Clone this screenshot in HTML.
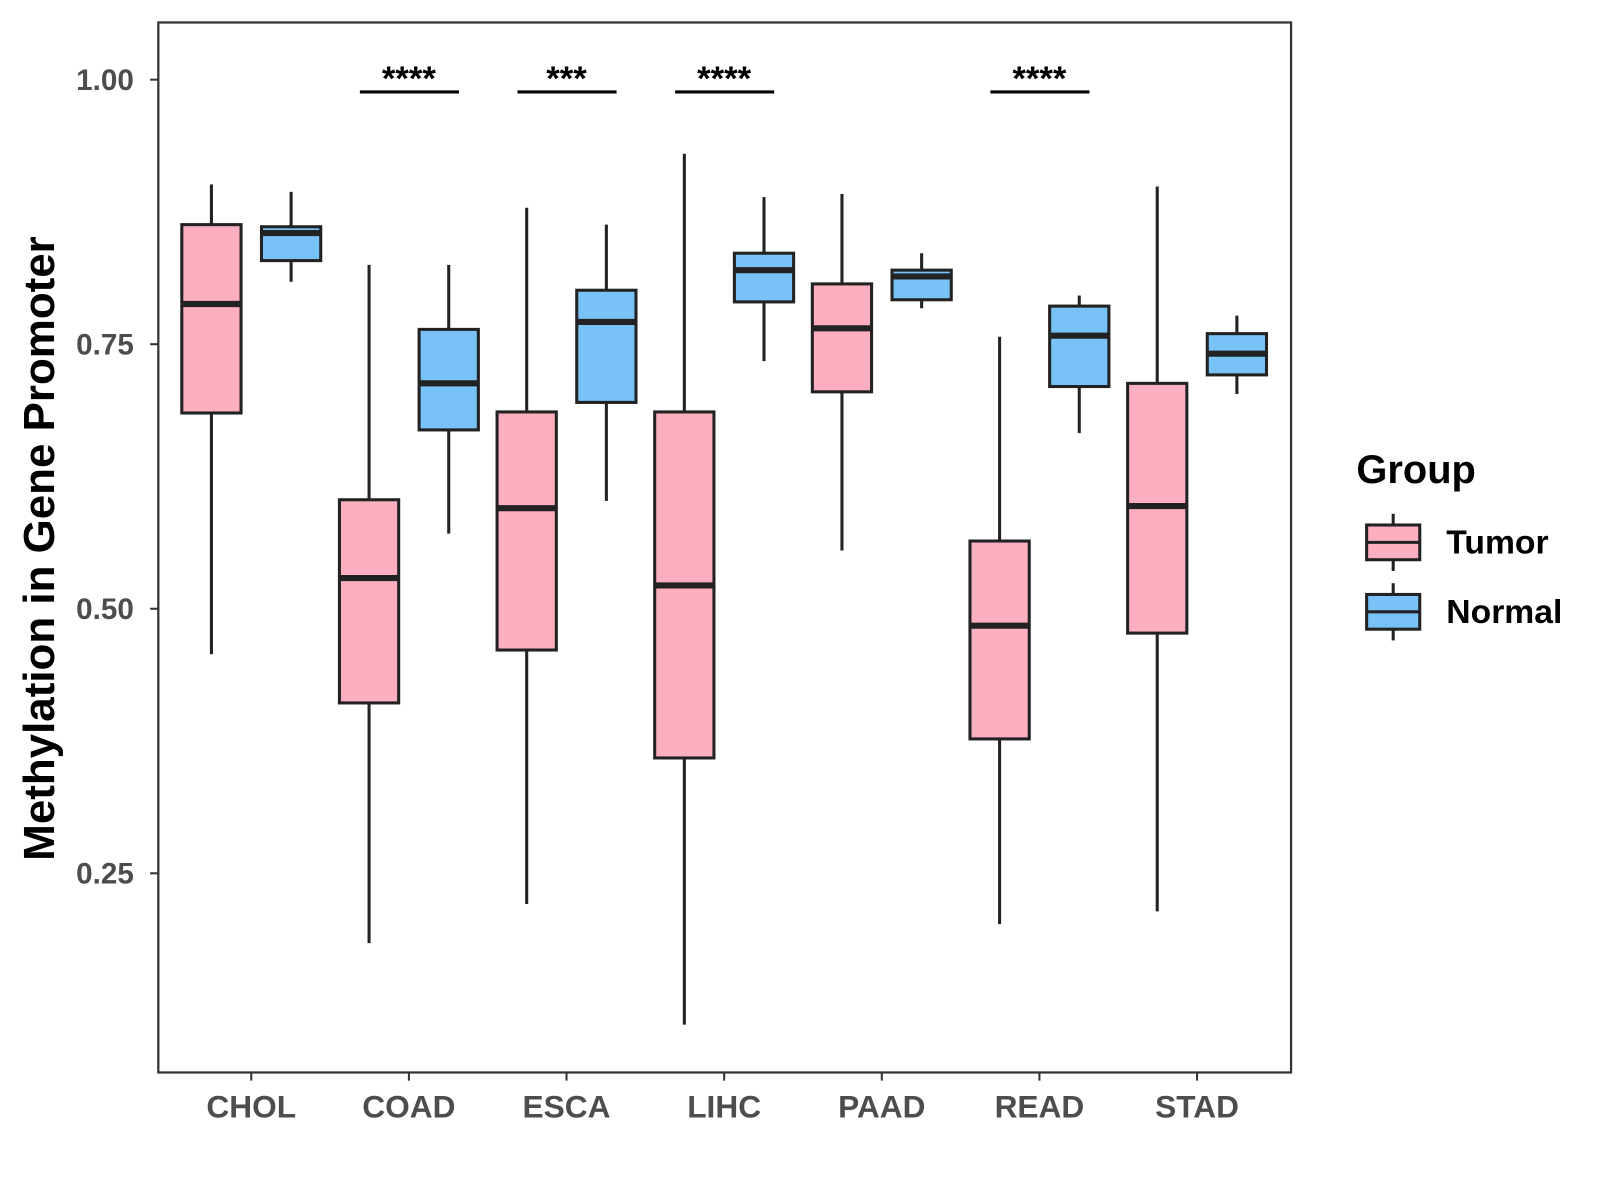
<!DOCTYPE html>
<html><head><meta charset="utf-8"><style>
html,body{margin:0;padding:0;background:#fff;}
svg{display:block;font-family:"Liberation Sans",Arial,sans-serif;}
</style></head><body>
<svg id="chart" width="1600" height="1200" viewBox="0 0 1600 1200">
<rect x="0" y="0" width="1600" height="1200" fill="#fff"/>
<g id="plot" transform="scale(1.0214)"></g>
</svg>
<script>
const categories = ["CHOL","COAD","ESCA","LIHC","PAAD","READ","STAD"];
// [low, q1, median, q3, high]
const tumorStats = [
 [0.457,0.685,0.788,0.863,0.901],
 [0.184,0.411,0.529,0.603,0.825],
 [0.221,0.461,0.595,0.686,0.879],
 [0.107,0.359,0.522,0.686,0.930],
 [0.555,0.705,0.765,0.807,0.892],
 [0.202,0.377,0.484,0.564,0.757],
 [0.214,0.477,0.597,0.713,0.899]
];
const normalStats = [
 [0.809,0.829,0.855,0.861,0.894],
 [0.571,0.669,0.713,0.764,0.825],
 [0.602,0.695,0.771,0.801,0.863],
 [0.734,0.790,0.820,0.836,0.889],
 [0.784,0.792,0.814,0.820,0.836],
 [0.666,0.710,0.758,0.786,0.796],
 [0.703,0.721,0.741,0.760,0.777]
];
const yTicks = [0.25,0.50,0.75,1.00];
const yTickLabels = ["0.25","0.50","0.75","1.00"];
const sigLabels = ["","****","***","****","","****",""];

const NS="http://www.w3.org/2000/svg";
const g=document.getElementById('plot');
const P={l:155,r:1264,t:22,b:1050};
function yS(v){return 78+(1-v)*1036;}
function xS(i){return 246+i*154.33;}
function el(tag,attrs,parent){const e=document.createElementNS(NS,tag);for(const k in attrs)e.setAttribute(k,attrs[k]);(parent||g).appendChild(e);return e;}

const panel=el('rect',{x:P.l,y:P.t,width:P.r-P.l,height:P.b-P.t,fill:'none',stroke:'#333','stroke-width':2.2});



yTicks.forEach((v,i)=>{
 const t=el('line',{x1:P.l-8,x2:P.l,y1:yS(v),y2:yS(v),stroke:'#333','stroke-width':2});
 
 
 const lb=el('text',{x:131,y:yS(v)+10,'text-anchor':'end','font-size':29,'font-weight':'bold',fill:'#4d4d4d'});
 lb.textContent=yTickLabels[i];
 
 
});
categories.forEach((c,i)=>{
 const t=el('line',{x1:xS(i),x2:xS(i),y1:P.b,y2:P.b+8,stroke:'#333','stroke-width':2});
 
 
 const lb=el('text',{x:xS(i),y:1094,'text-anchor':'middle','font-size':31,'font-weight':'bold',fill:'#4d4d4d'});
 lb.textContent=c;
 
 
});

function box(cx,s,fill,name){
 const w=58, grp=el('g',{});
 
 
 el('line',{x1:cx,x2:cx,y1:yS(s[4]),y2:yS(s[3]),stroke:'#222','stroke-width':3},grp);
 el('line',{x1:cx,x2:cx,y1:yS(s[1]),y2:yS(s[0]),stroke:'#222','stroke-width':3},grp);
 el('rect',{x:cx-w/2,y:yS(s[3]),width:w,height:yS(s[1])-yS(s[3]),fill:fill,stroke:'#222','stroke-width':3},grp);
 el('line',{x1:cx-w/2,x2:cx+w/2,y1:yS(s[2]),y2:yS(s[2]),stroke:'#222','stroke-width':6},grp);
}
categories.forEach((c,i)=>{
 box(xS(i)-39,tumorStats[i],'#FDAFC2','tumor-box-'+c.toLowerCase());
 box(xS(i)+39,normalStats[i],'#78C2F7','normal-box-'+c.toLowerCase());
 if(sigLabels[i]){
  const l=el('line',{x1:xS(i)-48,x2:xS(i)+49,y1:90,y2:90,stroke:'#000','stroke-width':3});
  
  
  const t=el('text',{x:xS(i),y:88,'text-anchor':'middle','font-size':34,'font-weight':'bold',fill:'#000'});
  t.textContent=sigLabels[i];
  
  
 }
});

const yt=el('text',{x:0,y:0,transform:'translate(53,537) rotate(-90)','text-anchor':'middle','font-size':43,'font-weight':'bold',fill:'#000'});
yt.textContent='Methylation in Gene Promoter';



const lg=el('g',{});


const lt=el('text',{x:1328,y:473,'font-size':39,'font-weight':'bold',fill:'#000'},lg);
lt.textContent='Group';
[['Tumor','#FDAFC2',531],['Normal','#78C2F7',599]].forEach(([n,f,cy])=>{
 const e=el('g',{},lg);
 
 
 el('line',{x1:1364,x2:1364,y1:cy-28,y2:cy+28,stroke:'#222','stroke-width':3},e);
 el('rect',{x:1338,y:cy-17,width:52,height:34,fill:f,stroke:'#222','stroke-width':3},e);
 el('line',{x1:1338,x2:1390,y1:cy,y2:cy,stroke:'#222','stroke-width':3},e);
 const t=el('text',{x:1416,y:cy+11,'font-size':33,'font-weight':'bold',fill:'#000'},e);
 t.textContent=n;
});
</script>
</body></html>
